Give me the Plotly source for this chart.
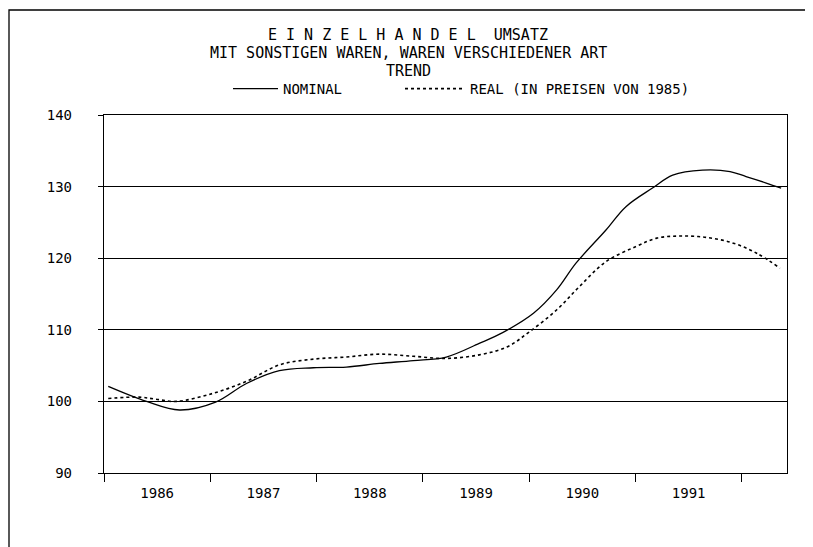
import plotly.graph_objects as go

# ---- data ----
nominal_x = [1986.04, 1986.40, 1986.71, 1987.05, 1987.34, 1987.65, 1987.97, 1988.28,
             1988.59, 1988.91, 1989.22, 1989.53, 1989.75, 1990.04, 1990.26, 1990.44,
             1990.72, 1990.91, 1991.16, 1991.35, 1991.63, 1991.89, 1992.04, 1992.23, 1992.37]
nominal_y = [102.1, 100.0, 98.8, 99.9, 102.5, 104.3, 104.7, 104.8,
             105.3, 105.7, 106.2, 108.1, 109.6, 112.3, 115.6, 119.3,
             123.9, 127.2, 129.8, 131.6, 132.3, 132.1, 131.4, 130.5, 129.8]

real_x = [1986.04, 1986.33, 1986.49, 1986.68, 1987.02, 1987.34, 1987.65, 1987.97,
          1988.28, 1988.59, 1988.91, 1989.22, 1989.53, 1989.79, 1990.00, 1990.26,
          1990.47, 1990.72, 1991.00, 1991.20, 1991.42, 1991.67, 1991.92, 1992.14, 1992.36]
real_y = [100.4, 100.6, 100.3, 100.0, 101.1, 102.8, 105.1, 105.9,
          106.2, 106.6, 106.3, 106.0, 106.5, 107.6, 109.7, 112.8,
          116.0, 119.5, 121.6, 122.8, 123.1, 122.9, 122.1, 120.7, 118.6]

year_labels = ["1986", "1987", "1988", "1989", "1990", "1991"]
year_label_pos = [1986.5, 1987.5, 1988.5, 1989.5, 1990.5, 1991.5]
year_bounds = [1986, 1987, 1988, 1989, 1990, 1991, 1992]
y_ticks = [90, 100, 110, 120, 130, 140]
y_ticktext = ["90", "100", "110", "120", "130", "140"]

title_lines = ["E I N Z E L H A N D E L \u00a0UMSATZ",
               "MIT SONSTIGEN WAREN, WAREN VERSCHIEDENER ART",
               "TREND"]
name_nominal = "NOMINAL"
name_real = "REAL (IN PREISEN VON 1985)"

FONT = "DejaVu Sans Mono"

# page body has an 8px margin: figure is sized to the visible area
W, H = 805, 539
L, R, T, B = 96, 26, 107, 74
PW, PH = W - L - R, H - T - B          # 683 x 358


def px(xr):   # reference-picture x -> paper
    return (xr - 8 - L) / PW


def py(yr):   # reference-picture y -> paper
    return (H - B - (yr - 8)) / PH


fig = go.Figure()
fig.add_trace(go.Scatter(x=nominal_x, y=nominal_y, mode="lines", name=name_nominal,
                         legend="legend",
                         line=dict(color="black", width=1.3, shape="spline", smoothing=1.0)))
fig.add_trace(go.Scatter(x=real_x, y=real_y, mode="lines", name=name_real,
                         legend="legend2",
                         line=dict(color="black", width=1.6, dash="dot", shape="spline", smoothing=1.0)))

leg_common = dict(orientation="h", xanchor="left", yanchor="middle",
                  font=dict(family=FONT, size=14, color="black"),
                  bgcolor="rgba(0,0,0,0)")

fig.update_layout(
    width=W, height=H,
    margin=dict(l=L, r=R, t=T, b=B, pad=0),
    paper_bgcolor="white", plot_bgcolor="white",
    font=dict(family=FONT, size=14, color="black"),
    showlegend=True,
    legend=dict(x=px(228), y=py(89), itemwidth=45, **leg_common),
    legend2=dict(x=px(400), y=py(89), itemwidth=60, **leg_common),
    xaxis=dict(range=[1986, 1986 + PW / 106.3], showgrid=False, zeroline=False,
               showline=True, linecolor="black", linewidth=1.3, mirror=True,
               tickmode="array", tickvals=year_label_pos, ticktext=year_labels,
               ticks="outside", ticklen=7, tickcolor="rgba(0,0,0,0)",
               minor=dict(tickmode="array", tickvals=year_bounds, ticks="outside",
                          ticklen=8, tickwidth=1.3, tickcolor="black", showgrid=False),
               tickfont=dict(family=FONT, size=14, color="black")),
    yaxis=dict(range=[90, 140], showgrid=True, gridcolor="black", gridwidth=1.4,
               zeroline=False, showline=True, linecolor="black", linewidth=1.3, mirror=True,
               tickmode="array", tickvals=y_ticks, ticktext=y_ticktext,
               ticks="outside", ticklen=5, tickwidth=1.3, tickcolor="black",
               ticklabelstandoff=23,
               tickfont=dict(family=FONT, size=14, color="black")),
)

# title lines
for line, yr in zip(title_lines, [35, 53, 71]):
    fig.add_annotation(text=line, xref="paper", yref="paper", x=px(408), y=py(yr),
                       xanchor="center", yanchor="middle", showarrow=False,
                       font=dict(family=FONT, size=15, color="black"))

# outer frame of the page
fig.add_shape(type="rect", xref="paper", yref="paper",
              x0=px(9), x1=px(808), y0=py(600), y1=py(10),
              line=dict(color="black", width=1.3), fillcolor="rgba(0,0,0,0)", layer="below")

fig.write_html("out.html")
